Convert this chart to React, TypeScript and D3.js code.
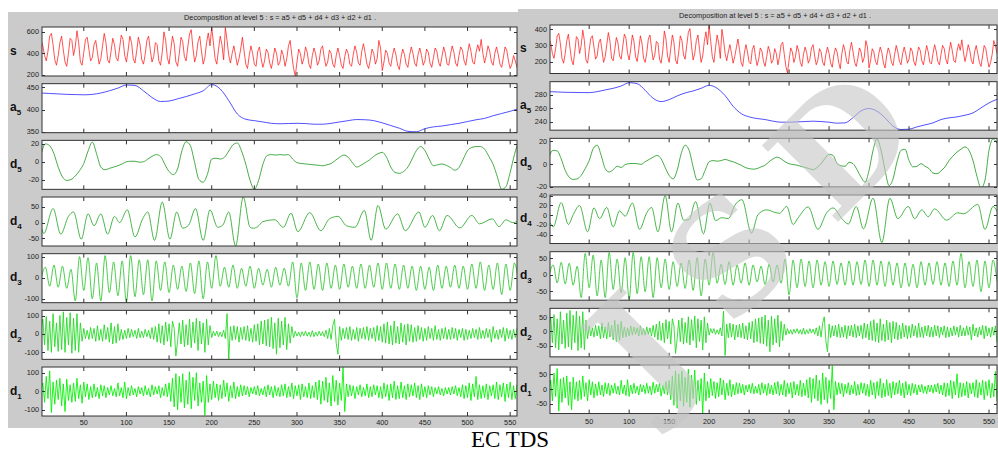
import React, { useRef, useEffect } from 'react';
import * as d3 from 'd3';

// ---------------- left picture (EC) ----------------
// s, d1, d2 sampled every 2 points, d3 every 5, d5 every 5, a5 every 10
const sLeft = [
    520, 470, 380, 330, 420, 560, 585, 480, 340, 290, 380, 500, 560, 430, 320, 280, 400, 540, 520, 380,
    460, 610, 500, 320, 290, 410, 530, 550, 440, 330, 360, 480, 520, 410, 300, 350, 470, 585, 500, 340,
    310, 420, 540, 480, 360, 330, 450, 570, 530, 380, 320, 430, 560, 500, 350, 310, 420, 550, 480, 340,
    300, 390, 520, 560, 430, 320, 370, 500, 480, 330, 290, 410, 600, 520, 360, 300, 430, 560, 490, 320,
    280, 400, 550, 510, 370, 330, 460, 580, 620, 450, 320, 380, 510, 560, 420, 300, 360, 500, 590, 470,
    645, 500, 350, 300, 440, 560, 480, 340, 640, 520, 380, 310, 400, 470, 380, 290, 350, 440, 550, 420,
    300, 260, 380, 470, 400, 300, 280, 420, 460, 350, 270, 330, 440, 410, 310, 260, 350, 450, 400, 290,
    320, 430, 380, 280, 350, 470, 520, 380, 260, 190, 320, 440, 400, 300, 350, 460, 410, 300, 260, 380,
    450, 390, 290, 330, 440, 470, 360, 280, 320, 430, 400, 300, 270, 380, 450, 380, 290, 260, 370, 440,
    400, 300, 280, 390, 470, 410, 310, 290, 420, 490, 400, 300, 260, 340, 440, 400, 300, 350, 520, 450,
    240, 320, 430, 400, 310, 280, 380, 450, 390, 290, 250, 360, 440, 390, 300, 270, 380, 460, 400, 310,
    280, 390, 450, 380, 290, 330, 440, 410, 310, 270, 360, 450, 420, 320, 280, 370, 460, 400, 300, 290,
    390, 470, 410, 310, 280, 380, 460, 430, 330, 290, 400, 490, 420, 320, 300, 410, 480, 420, 530, 400,
    310, 380, 470, 420, 320, 290, 400, 460, 390, 300, 270, 360, 460, 430, 330, 260, 300, 380, 330, 270,
    300,
];
const a5Left = [
    437, 436, 435, 434, 433.5, 433, 434, 437, 442, 448, 455, 454, 442, 427, 418, 419, 424, 429, 435, 442,
    456, 446, 420, 390, 378, 375, 372, 369, 368, 368.5, 369, 368.5, 367, 367, 369, 372, 375, 377.5, 377, 375,
    370, 364, 358, 351, 350, 357, 361, 363, 366, 369, 373, 377, 380, 386, 391, 396, 402,
];
const d5Left = [
    8, 20, 18, 9, -6, -17, -21, -20, -16, -10, -2, 12, 22, 9, -6, -9, -7.5, -6, -4.5, -2.5,
    0, 0.5, 0.5, -0.5, 0, 3, 6, 8, 6, -3, -11, -14.5, -8, 12, 22.5, 18, -1, -20, -23, -14,
    3, 4, 3, 5, 12, 19, 21, 12, -3, -21, -31, -21, -3, 7, 8, 7.5, 8, 7.5, 8, 3,
    -1, -2, -2.5, -3, -3.5, -4, -4.5, -3.5, -2, 1.5, 5, 7.5, 5, -1, -6, -4, -1, 2, 6, 9,
    10.5, 5, -6, -12, -13, -11, -6, 3, 12.5, 17, 12.5, 3, -4.5, -3.5, -2.5, -4, -6.5, -9.5, -6.5, 3,
    12.5, 16, 17, 17, 14, 6, -3, -17, -31, -28, -12, 8, 24,
];
const d4LeftX = [
    1, 3, 14, 23, 32, 38, 47, 55, 62, 70, 78, 86, 92, 101, 110, 119, 125, 133, 142, 151,
    159, 166, 173, 181, 190, 198, 207, 213, 220, 228, 237, 245, 249, 254, 260, 274, 284, 293, 301, 315,
    328, 338, 348, 358, 368, 379, 387, 395, 404, 418, 427, 443, 450, 459, 467, 476, 491, 505, 514, 529,
    537, 545, 553, 560,
];
const d4LeftY = [
    -20, -35, 45, -37, 20, 34, -53, 28, -10, 28, -37, 20, 0, 41, -46, 12, 34, -57, 66, -53,
    34, -18, -8, 45, -57, 41, -15, -8, 34, -75, 82, -15, -18, -13, 3, 9, -15, 30, -29, 32,
    -26, 12, 20, -10, -15, 39, -57, 55, -21, 28, -26, 34, -15, 23, -26, 23, -17, 23, -4, 12,
    -13, 9, 0, 5,
];
const d3Left = [
    0, 50, -40, 60, -45, 55, -50, 40, -110, 100, -60, 95, -100, 70, -110, 105, -70, 75, -85, 80,
    -115, 105, -90, 85, -80, 85, -110, 80, -60, 75, -70, 60, -55, 55, -65, 70, -75, 80, -100, 75,
    -50, 105, -40, 50, -45, 60, -50, 45, -40, 55, -50, 45, -35, 40, -45, 50, -35, 45, -40, 75,
    -95, 70, -60, 75, -55, 65, -60, 70, -50, 60, -55, 65, -45, 55, -50, 65, -50, 60, -45, 70,
    -55, 70, -50, 65, -55, 60, -50, 55, -60, 55, -55, 50, -60, 60, -50, 55, -45, 60, -50, 55,
    -55, 65, -50, 75, -60, 60, -55, 70, -80, 65, -60, 70, -30,
];
const d2Left = [
    30, 80, -60, 95, -90, 70, -100, 110, -70, 60, -95, 100, -85, 120, -100, 90, -60, 115, -105, 85,
    -90, 110, -100, 60, -40, 30, -25, 20, -30, 35, -25, 30, -40, 45, -35, 25, -40, 50, -30, 35,
    -45, 60, -55, 40, -50, 55, -35, 25, -30, 20, -25, 30, -20, 25, -15, 20, -25, 30, -20, 15,
    -20, 25, -15, 20, -25, 35, -30, 40, -45, 55, -50, 45, -60, 65, -40, 55, -70, 70, 30, -120,
    -40, 60, -55, 75, -70, 50, -60, 80, -75, 65, -50, 85, -90, 70, -55, 60, -100, 80, -60, 45,
    -20, 15, -10, 15, -15, 10, -15, 20, -25, 110, -140, 40, -35, 45, -30, 40, -45, 35, -30, 40,
    -35, 45, -40, 30, -45, 50, -40, 55, -60, 70, -55, 75, -65, 80, -70, 90, -80, 60, -110, 85,
    -75, 70, -60, 90, -85, 55, -50, 40, -20, 15, -12, 10, -15, 12, -10, 15, -12, 10, -15, 18,
    -15, 10, -12, 15, -10, 12, -15, 20, -25, 30, -30, 45, 80, -50, -110, 40, -35, 30, -25, 35,
    -30, 40, -35, 25, -30, 35, -40, 30, -25, 35, -30, 40, -35, 30, -25, 35, -40, 45, -35, 40,
    -45, 55, -50, 65, -55, 45, -60, 70, -50, 40, -55, 60, -45, 50, -60, 55, -40, 50, -45, 35,
    -40, 45, -30, 35, -40, 30, -35, 40, -25, 30, -35, 45, -30, 25, -35, 30, -25, 35, -30, 25,
    -30, 35, -25, 30, -35, 25, -20, 30, -35, 25, -30, 20, -25, 30, -20, 25, -30, 35, -25, 20,
    -25, 30, -20, 25, -45, 40, -25, 20, -30, 25, -20, 35, -40, 30, -25, 20, -30, 25, -20, 30,
    -15,
];
const d1Left = [
    10, 45, -60, 80, -40, 110, -115, 50, -70, 60, -45, 70, -80, 40, -110, 65, -50, 35, -60, 45,
    -55, 70, -40, 35, -65, 50, -30, 40, -45, 25, -35, 40, -30, 20, -40, 35, -25, 30, -35, 20,
    -20, 30, -25, 15, -30, 45, -25, 20, -35, 50, -40, 20, -25, 30, -20, 15, -30, 25, -15, 20,
    -25, 30, -20, 15, -30, 35, -20, 25, -15, 30, -35, 20, -25, 40, -30, 45, -55, 70, -85, 95,
    -100, 80, -60, 95, -90, 60, -70, 105, -95, 75, -50, 100, -80, 45, -60, 55, -130, 85, -60, 40,
    -45, 55, -35, 40, -50, 35, -40, 60, -30, 45, -55, 30, -35, 50, -40, 25, -30, 35, -25, 30,
    -20, 25, -30, 20, -15, 25, -20, 30, -25, 15, -20, 25, -30, 35, -20, 25, -35, 30, -25, 20,
    -30, 35, -25, 40, -35, 25, -30, 45, -40, 30, -25, 35, -45, 40, -30, 25, -35, 45, -40, 30,
    -35, 50, -45, 60, -70, 55, -50, 75, -60, 45, -80, 85, -55, 60, -75, 45, -50, 130, -110, 40,
    -30, 35, -25, 30, -40, 25, -20, 35, -30, 20, -25, 40, -35, 25, -30, 35, -20, 30, -35, 25,
    -40, 45, -30, 35, -50, 40, -35, 55, -45, 30, -40, 50, -35, 30, -45, 40, -30, 35, -25, 45,
    -35, 30, -45, 40, -30, 25, -35, 30, -20, 25, -30, 20, -15, 25, -20, 15, -25, 20, -15, 20,
    -20, 25, -15, 30, -25, 20, -30, 35, -40, 30, -35, 45, -50, 40, -30, 80, -45, 35, -40, 30,
    -35, 40, -45, 30, -25, 35, -40, 50, -45, 35, -30, 45, -55, 40, -35, 50, -45, 30, -40, 35,
    -20,
];

// ---------------- right picture (TDS) ----------------
const sRight = [
    340, 310, 250, 220, 280, 360, 375, 310, 220, 190, 250, 330, 370, 285, 210, 180, 260, 355, 340, 250,
    300, 395, 330, 210, 190, 270, 345, 360, 290, 215, 235, 315, 340, 270, 195, 230, 305, 380, 325, 220,
    205, 275, 350, 315, 235, 215, 295, 370, 345, 250, 210, 280, 365, 325, 230, 200, 275, 360, 315, 220,
    195, 255, 340, 365, 280, 210, 240, 325, 315, 215, 190, 265, 390, 340, 235, 195, 280, 365, 320, 210,
    185, 260, 360, 330, 240, 215, 300, 380, 405, 295, 210, 250, 330, 365, 275, 195, 235, 325, 385, 305,
    425, 325, 230, 195, 285, 365, 315, 220, 400, 335, 250, 205, 260, 305, 250, 190, 230, 285, 340, 275,
    195, 170, 250, 305, 260, 195, 185, 275, 300, 230, 175, 215, 285, 265, 200, 170, 230, 295, 260, 190,
    210, 280, 250, 180, 230, 305, 320, 245, 170, 128, 210, 285, 260, 195, 230, 300, 265, 195, 170, 245,
    290, 255, 190, 215, 285, 305, 235, 180, 210, 280, 260, 195, 175, 245, 290, 250, 190, 165, 240, 285,
    260, 195, 155, 250, 305, 265, 200, 185, 270, 320, 260, 195, 170, 220, 285, 260, 195, 225, 330, 290,
    160, 210, 280, 260, 200, 180, 245, 290, 255, 190, 160, 235, 285, 255, 195, 175, 245, 300, 260, 200,
    180, 250, 290, 245, 190, 215, 285, 265, 200, 175, 235, 290, 270, 205, 180, 240, 300, 260, 195, 185,
    250, 305, 265, 200, 180, 245, 300, 280, 215, 185, 260, 320, 270, 205, 195, 265, 310, 270, 335, 260,
    200, 245, 305, 270, 205, 185, 260, 300, 250, 195, 170, 235, 300, 280, 215, 165, 195, 245, 330, 300,
    250,
];
const a5Right = [
    285, 284.5, 284, 283.8, 283.6, 283.5, 285, 287.5, 290, 293.5, 298.5, 297, 287, 275, 270, 273, 278.5, 283, 286, 290,
    294.5, 290, 279, 263, 252, 247, 244.5, 243, 240.5, 239, 239, 239.5, 240, 240.5, 240, 239, 237.5, 238, 246, 256,
    259.5, 255.5, 245.5, 233, 228, 228.5, 232, 235, 238, 243, 245.5, 247, 249.5, 253, 260.5, 268, 273.5,
];
const d5Right = [
    7, 12, 11.5, 4.5, -5.5, -11.5, -13.5, -13, -10, -4, 3, 13.5, 16.5, 7.5, -4, -7, -5, -2, -3, -0.5,
    0.3, 0.5, 0.3, -0.3, 2, 4, 6, 7.5, 4.5, -3, -10, -13, -5.5, 9, 16.5, 12, -2.5, -14, -13, -5.5,
    2, 3, 2.5, 3, 4, 3, 2, 0.5, -1, -3, -4, -4.5, -4, -2.5, -1, 2, 4.5, 6, 4.5, 2,
    0.3, -0.5, -1, -2, -3, -4, -5, -3, 0.3, 5, 8.5, 7.5, 0.5, -1.5, -2, 1.5, 0.3, -5, -11.5, -16,
    -5.5, 12, 22, 12, -5.5, -19, -13, 2, 12, 13, 3, -2.5, -2, 0.3, -2, -4, -8, -8.5, -6, -2.5,
    3, 7, 10.5, 13, 15, 12, 3, -11, -21, -14, 12, 22, 18,
];
const d4RightX = [
    1, 5, 15, 24, 30, 38, 48, 56, 63, 72, 80, 88, 95, 104, 113, 122, 128, 136, 145, 153,
    161, 168, 175, 183, 193, 201, 208, 216, 224, 232, 241, 253, 261, 272, 282, 288, 297, 305, 311, 324,
    336, 347, 355, 366, 374, 384, 393, 405, 416, 426, 436, 449, 457, 466, 474, 482, 497, 511, 518, 536,
    545, 555, 560,
];
const d4RightY = [
    -15, -24, 26, -19, 1, 20, -34, 15, -7, 16, -24, 9, -2, 25, -29, 5, 16, -34, 40, -34,
    25, -10, -9, 28, -38, 25, -11, -5, -7, 20, 32, -37, 1, 11, 6, 4, 18, -19, -6, 17,
    -29, 5, 15, -7, -18, 18, -28, 35, -56, 35, -7, 18, -7, 11, -3, 13, -10, 5, 3, 22,
    -29, 18, 8,
];
const d3Right = [
    0, 30, -25, 38, -28, 35, -32, 26, -70, 65, -40, 60, -65, 45, -70, 68, -45, 48, -55, 52,
    -75, 68, -58, 55, -52, 55, -70, 52, -40, 48, -45, 40, -36, 36, -42, 45, -48, 52, -65, 48,
    -32, 68, -26, 32, -30, 40, -32, 30, -26, 36, -32, 30, -22, 26, -30, 32, -22, 30, -26, 48,
    -62, 45, -40, 48, -36, 42, -40, 45, -32, 40, -36, 42, -30, 36, -32, 42, -32, 40, -30, 45,
    -36, 45, -32, 42, -36, 40, -32, 36, -40, 36, -36, 32, -40, 40, -32, 36, -30, 40, -32, 36,
    -36, 42, -32, 65, -40, 40, -36, 45, -52, 42, -40, 45, -20,
];
const d2Right = [
    20, 50, -40, 60, -58, 45, -65, 70, -45, 40, -60, 65, -55, 75, -65, 58, -40, 72, -68, 55,
    -58, 70, -65, 40, -26, 20, -16, 13, -20, 22, -16, 20, -26, 30, -22, 16, -26, 32, -20, 22,
    -30, 40, -36, 26, -32, 36, -22, 16, -20, 13, -16, 20, -13, 16, -10, 13, -16, 20, -13, 10,
    -13, 16, -10, 13, -16, 22, -20, 26, -30, 36, -32, 30, -40, 42, -26, 36, -45, 45, 20, -78,
    -26, 40, -36, 48, -45, 32, -40, 52, -48, 42, -32, 55, -58, 45, -36, 40, -65, 52, -40, 30,
    -13, 10, -6, 10, -10, 6, -10, 13, -16, 72, -85, 26, -22, 30, -20, 26, -30, 22, -20, 26,
    -22, 30, -26, 20, -30, 32, -26, 36, -40, 45, -36, 48, -42, 52, -45, 58, -52, 40, -72, 55,
    -48, 45, -40, 58, -55, 36, -32, 26, -13, 10, -8, 6, -10, 8, -6, 10, -8, 6, -10, 12,
    -10, 6, -8, 10, -6, 8, -10, 13, -16, 20, -20, 30, 52, -32, -72, 26, -22, 20, -16, 22,
    -20, 26, -22, 16, -20, 22, -26, 20, -16, 22, -20, 26, -22, 20, -16, 22, -26, 30, -22, 26,
    -30, 36, -32, 42, -36, 30, -40, 45, -32, 26, -36, 40, -30, 32, -40, 36, -26, 32, -30, 22,
    -26, 30, -20, 22, -26, 20, -22, 26, -16, 20, -22, 30, -20, 16, -22, 20, -16, 22, -20, 16,
    -20, 22, -16, 20, -22, 16, -13, 20, -22, 16, -20, 13, -16, 20, -13, 16, -20, 22, -16, 13,
    -16, 20, -13, 16, -30, 26, -16, 13, -20, 16, -13, 22, -26, 20, -16, 13, -20, 16, -13, 20,
    -40,
];
const d1Right = [
    5, 30, -40, 55, -25, 70, -75, 35, -45, 40, -30, 45, -55, 25, -70, 40, -35, 25, -40, 30,
    -35, 45, -25, 22, -40, 32, -20, 25, -30, 18, -22, 25, -20, 14, -25, 22, -16, 20, -22, 14,
    -14, 20, -16, 10, -20, 30, -16, 14, -22, 32, -25, 14, -16, 20, -14, 10, -20, 16, -10, 14,
    -16, 20, -14, 10, -20, 24, -14, 16, -10, 20, -24, 14, -16, 26, -20, 30, -36, 45, -55, 62,
    -65, 52, -40, 62, -58, 40, -45, 68, -62, 48, -32, 65, -52, 30, -40, 36, -82, 55, -40, 26,
    -30, 36, -22, 26, -32, 22, -26, 38, -20, 30, -36, 20, -22, 32, -26, 16, -20, 22, -16, 20,
    -14, 16, -20, 14, -10, 16, -14, 20, -16, 10, -14, 16, -20, 22, -14, 16, -22, 20, -16, 14,
    -20, 22, -16, 26, -22, 16, -20, 30, -26, 20, -16, 22, -30, 26, -20, 16, -22, 30, -26, 20,
    -22, 32, -30, 40, -45, 36, -32, 48, -40, 30, -52, 55, -36, 40, -48, 30, -32, 80, -70, 26,
    -20, 22, -16, 20, -26, 16, -14, 22, -20, 14, -16, 26, -22, 16, -20, 22, -14, 20, -22, 16,
    -26, 30, -20, 22, -32, 26, -22, 36, -30, 20, -26, 32, -22, 20, -30, 26, -20, 22, -16, 30,
    -22, 20, -30, 26, -20, 16, -22, 20, -14, 16, -20, 14, -10, 16, -14, 10, -16, 14, -10, 14,
    -14, 16, -10, 20, -16, 14, -20, 22, -26, 20, -22, 30, -32, 26, -20, 52, -30, 22, -26, 20,
    -22, 26, -30, 20, -16, 22, -26, 32, -30, 22, -20, 30, -36, 26, -22, 32, -30, 20, -26, 60,
    -40,
];

const xTicks = [50, 100, 150, 200, 250, 300, 350, 400, 450, 500, 550];
const TITLE = 'Decomposition at level 5 : s = a5 + d5 + d4 + d3 + d2 + d1 .';
const FONT = '"Liberation Sans", Arial, sans-serif';

// which rows, their names, value ranges and tick labels
const leftRows = [
    { name: 's', sub: '', y: sLeft, step: 2, domain: [190, 645], ticks: [200, 400, 600], color: '#ff1a1a', op: 0.75 },
    { name: 'a', sub: '5', y: a5Left, step: 10, domain: [348, 458], ticks: [350, 400, 450], color: '#3333ff', smooth: true },
    { name: 'd', sub: '5', y: d5Left, step: 5, domain: [-31, 24], ticks: [-20, 0, 20], color: '#279c27', smooth: true },
    { name: 'd', sub: '4', y: d4LeftY, x: d4LeftX, domain: [-75, 82], ticks: [-50, 0, 50], color: '#2aa82a', smooth: true },
    { name: 'd', sub: '3', y: d3Left, step: 5, domain: [-118, 114], ticks: [-100, 0, 100], color: '#2cc42c', smooth: true },
    { name: 'd', sub: '2', y: d2Left, step: 2, domain: [-138, 128], ticks: [-100, 0, 100], color: '#1ed81e' },
    { name: 'd', sub: '1', y: d1Left, step: 2, domain: [-134, 131], ticks: [-100, 0, 100], color: '#00ee00' },
];
const rightRows = [
    { name: 's', sub: '', y: sRight, step: 2, domain: [126, 427], ticks: [200, 300, 400], color: '#ff1a1a', op: 0.75 },
    { name: 'a', sub: '5', y: a5Right, step: 10, domain: [227, 300], ticks: [240, 260, 280], color: '#3333ff', smooth: true },
    { name: 'd', sub: '5', y: d5Right, step: 5, domain: [-20, 22.5], ticks: [-20, 0, 20], color: '#279c27', smooth: true },
    { name: 'd', sub: '4', y: d4RightY, x: d4RightX, domain: [-58, 41.5], ticks: [-40, -20, 0, 20, 40], color: '#2aa82a', smooth: true },
    { name: 'd', sub: '3', y: d3Right, step: 5, domain: [-78, 70.5], ticks: [-50, 0, 50], color: '#2cc42c', smooth: true },
    { name: 'd', sub: '2', y: d2Right, step: 2, domain: [-90, 82], ticks: [-50, 0, 50], color: '#1ed81e' },
    { name: 'd', sub: '1', y: d1Right, step: 2, domain: [-83, 82], ticks: [-50, 0, 50], color: '#00ee00' },
];

const panels = [
    {
        id: 'L', rows: leftRows, bg: [8, 12, 510, 416], left: 42, right: 517, xMax: 558,
        top: 27, gap: 56.67, h: 49, titleX: 280, titleY: 20, labelX: 10, tickLabelX: 39, xLabelY: 425,
    },
    {
        id: 'R', rows: rightRows, bg: [518, 9, 480, 419], left: 550, right: 997, xMax: 560,
        top: 25, gap: 56.67, h: 48.5, titleX: 775, titleY: 18, labelX: 520, tickLabelX: 547, xLabelY: 424,
    },
];

const App = () => {
    const ref = useRef<SVGSVGElement>(null);

    useEffect(() => {
        const svg = d3.select(ref.current);
        svg.selectAll('*').remove();

        svg.append('rect').attr('width', 998).attr('height', 452).attr('fill', '#fff');

        panels.forEach(p => {
            svg.append('rect')
                .attr('x', p.bg[0]).attr('y', p.bg[1])
                .attr('width', p.bg[2]).attr('height', p.bg[3])
                .attr('fill', '#cbcbcb');
        });

        panels.forEach(p => {
            const g = svg.append('g');
            const x = d3.scaleLinear().domain([1, p.xMax]).range([p.left, p.right]);

            g.append('text')
                .attr('x', p.titleX).attr('y', p.titleY)
                .attr('text-anchor', 'middle')
                .style('font-family', FONT).style('font-size', '7.3px')
                .attr('fill', '#222')
                .text(TITLE);

            p.rows.forEach((r, k) => {
                const top = p.top + k * p.gap;
                const bottom = top + p.h;
                const y = d3.scaleLinear().domain(r.domain).range([bottom, top]);
                const ax = g.append('g');

                ax.append('rect')
                    .attr('x', p.left).attr('y', top)
                    .attr('width', p.right - p.left).attr('height', p.h)
                    .attr('fill', '#fff');

                const clipId = `clip-${p.id}-${k}`;
                ax.append('clipPath').attr('id', clipId)
                    .append('rect')
                    .attr('x', p.left).attr('y', top)
                    .attr('width', p.right - p.left).attr('height', p.h);

                const pts = r.y.map((v, i) => [r.x ? r.x[i] : i * r.step, v]);
                const line = d3.line()
                    .x(d => x(d[0]))
                    .y(d => y(d[1]))
                    .curve(r.smooth ? d3.curveMonotoneX : d3.curveLinear);

                ax.append('path')
                    .datum(pts)
                    .attr('clip-path', `url(#${clipId})`)
                    .attr('d', line)
                    .attr('fill', 'none')
                    .attr('stroke', r.color)
                    .attr('stroke-width', 1)
                    .attr('stroke-opacity', r.op ?? 0.85)
                    .attr('stroke-linejoin', 'round');

                // ticks, pointing inwards like matlab
                xTicks.forEach(t => {
                    ax.append('line')
                        .attr('x1', x(t)).attr('x2', x(t))
                        .attr('y1', top).attr('y2', top + 4)
                        .attr('stroke', '#333');
                    ax.append('line')
                        .attr('x1', x(t)).attr('x2', x(t))
                        .attr('y1', bottom).attr('y2', bottom - 4)
                        .attr('stroke', '#333');
                });
                r.ticks.forEach(t => {
                    const ty = Math.round(y(t)) + 0.5;
                    ax.append('line')
                        .attr('x1', p.left).attr('x2', p.left + 3)
                        .attr('y1', ty).attr('y2', ty)
                        .attr('stroke', '#333');
                    ax.append('line')
                        .attr('x1', p.right).attr('x2', p.right - 3)
                        .attr('y1', ty).attr('y2', ty)
                        .attr('stroke', '#333');
                    ax.append('text')
                        .attr('x', p.tickLabelX).attr('y', y(t) + 2.5)
                        .attr('text-anchor', 'end')
                        .style('font-family', FONT).style('font-size', '7.3px')
                        .attr('fill', '#222')
                        .text(t);
                });

                ax.append('rect')
                    .attr('x', p.left).attr('y', top)
                    .attr('width', p.right - p.left).attr('height', p.h)
                    .attr('fill', 'none')
                    .attr('stroke', '#333')
                    .attr('stroke-width', 1);

                // row label with subscript
                const lab = ax.append('text')
                    .attr('x', p.labelX).attr('y', top + p.h / 2 + 3)
                    .style('font-family', FONT).style('font-weight', 'bold')
                    .style('font-size', '12px')
                    .attr('fill', '#111');
                lab.append('tspan').text(r.name);
                if (r.sub) lab.append('tspan').attr('dy', 4).style('font-size', '8px').text(r.sub);
            });

            xTicks.forEach(t => {
                g.append('text')
                    .attr('x', x(t)).attr('y', p.xLabelY)
                    .attr('text-anchor', 'middle')
                    .style('font-family', FONT).style('font-size', '7.3px')
                    .attr('fill', '#222')
                    .text(t);
            });
        });

        // watermark over the right picture
        svg.append('text')
            .attr('transform', 'translate(802,258) rotate(-45)')
            .attr('text-anchor', 'middle')
            .style('font-family', '"DejaVu Serif", serif')
            .style('font-weight', 'bold')
            .style('font-size', '148px')
            .style('letter-spacing', '40px')
            .attr('fill', '#c6c6c6')
            .attr('opacity', 0.6)
            .text('JSD');

        svg.append('text')
            .attr('x', 510).attr('y', 447)
            .attr('text-anchor', 'middle')
            .style('font-family', '"Liberation Serif", "Times New Roman", serif')
            .style('font-size', '23px')
            .attr('fill', '#000')
            .text('EC TDS');
    }, []);

    return (
        <div style={{ position: 'absolute', left: 0, top: 0 }}>
            <svg ref={ref} width={998} height={452} style={{ display: 'block' }}></svg>
        </div>
    );
};

export default App;
